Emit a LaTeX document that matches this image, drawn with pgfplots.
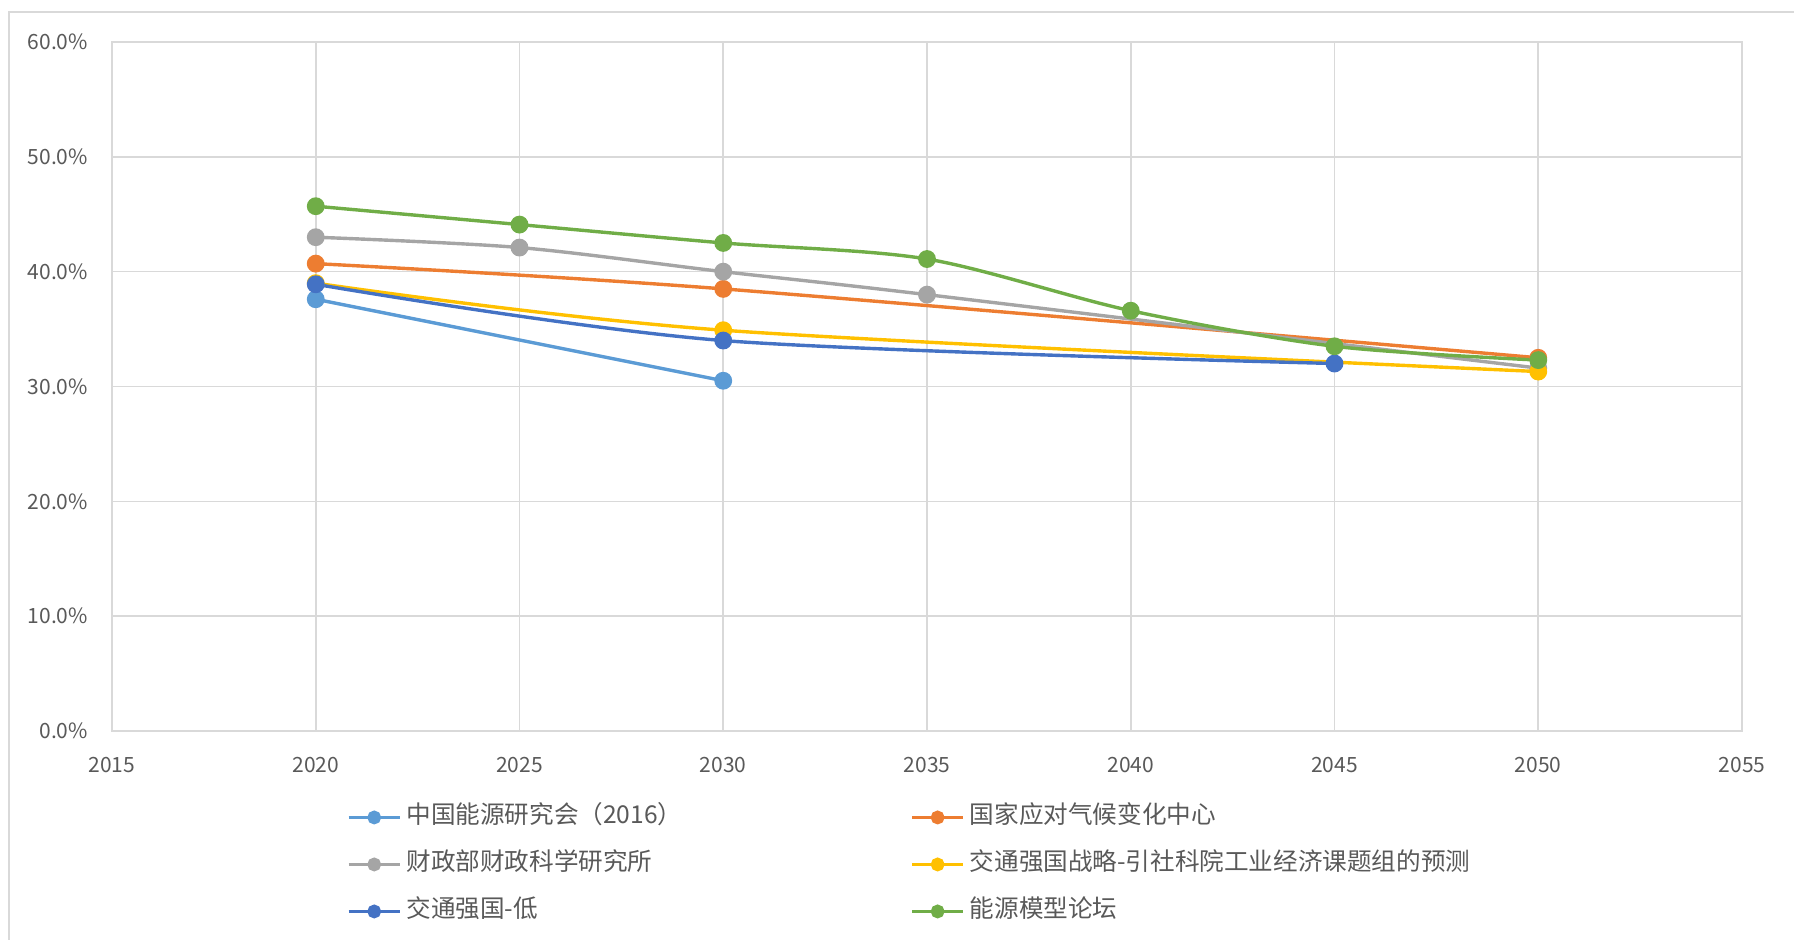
\documentclass[border=0pt]{standalone}
\usepackage{pgfplots}
\pgfplotsset{compat=1.18}
\usepackage{fontspec}
\setmainfont{Noto Sans CJK SC}
\definecolor{cA}{HTML}{5B9BD5}
\definecolor{cB}{HTML}{ED7D31}
\definecolor{cC}{HTML}{A5A5A5}
\definecolor{cD}{HTML}{FFC000}
\definecolor{cE}{HTML}{4472C4}
\definecolor{cF}{HTML}{70AD47}
\definecolor{gridc}{HTML}{D9D9D9}
\definecolor{txt}{HTML}{595959}
\begin{document}
\begin{tikzpicture}
\path[use as bounding box] (-56pt,-104.5pt) rectangle (841pt,365.5pt);
\draw[gridc, line width=0.8pt] (-51.5pt,-120pt) -- (-51.5pt,359.5pt) -- (860pt,359.5pt);
\begin{axis}[
  at={(0pt,0pt)}, anchor=south west,
  width=815pt, height=344.5pt, scale only axis,
  xmin=2015, xmax=2055, ymin=0, ymax=60,
  xtick={2015,2020,...,2055}, ytick={0,10,...,60},
  grid=major, major grid style={gridc, line width=0.8pt},
  axis line style={gridc, line width=0.8pt},
  major tick length=0pt,
  tick label style={font=\fontsize{10.5}{12}\selectfont, text=txt},
  /pgf/number format/assume math mode=true,
  xticklabel style={/pgf/number format/1000 sep={}, yshift=-9.5pt},
  yticklabel={\pgfmathprintnumber[fixed,fixed zerofill,precision=1]{\tick}\%},
  yticklabel style={xshift=-8.5pt},
  every axis plot/.append style={line width=1.7pt, mark=*, mark size=3.6pt, smooth},
  legend columns=2,
  legend cell align=left,
  legend style={draw=none, fill=none, inner sep=0pt, outer sep=0pt,
    at={(0.1442,-0.103)}, anchor=north west,
    font=\fontsize{12.3}{14}\selectfont, text=txt,
    row sep=8pt,
    nodes={text height=9pt, text depth=2.5pt, inner xsep=2.5pt}},
  legend image code/.code={\draw[mark repeat=2,mark phase=2,#1, mark size=2.6pt] plot coordinates {(0pt,0pt)(12.75pt,0pt)(25.5pt,0pt)};},
]
\addplot[cA, mark options={fill=cA, draw=cA}] coordinates {(2020,37.6) (2030,30.5)};
\addlegendentry{\makebox[249.5pt][l]{中国能源研究会（2016）}}
\addplot[cB, mark options={fill=cB, draw=cB}] coordinates {(2020,40.7) (2030,38.5) (2050,32.5)};
\addlegendentry{国家应对气候变化中心}
\addplot[cC, mark options={fill=cC, draw=cC}] coordinates {(2020,43.0) (2025,42.1) (2030,40.0) (2035,38.0) (2050,31.6)};
\addlegendentry{\makebox[249.5pt][l]{财政部财政科学研究所}}
\addplot[cD, mark options={fill=cD, draw=cD}] coordinates {(2020,39.0) (2030,34.9) (2050,31.3)};
\addlegendentry{交通强国战略-引社科院工业经济课题组的预测}
\addplot[cE, mark options={fill=cE, draw=cE}] coordinates {(2020,38.9) (2030,34.0) (2045,32.0)};
\addlegendentry{\makebox[249.5pt][l]{交通强国-低}}
\addplot[cF, mark options={fill=cF, draw=cF}] coordinates {(2020,45.7) (2025,44.1) (2030,42.5) (2035,41.1) (2040,36.6) (2045,33.5) (2050,32.3)};
\addlegendentry{能源模型论坛}
\end{axis}
\end{tikzpicture}
\end{document}
